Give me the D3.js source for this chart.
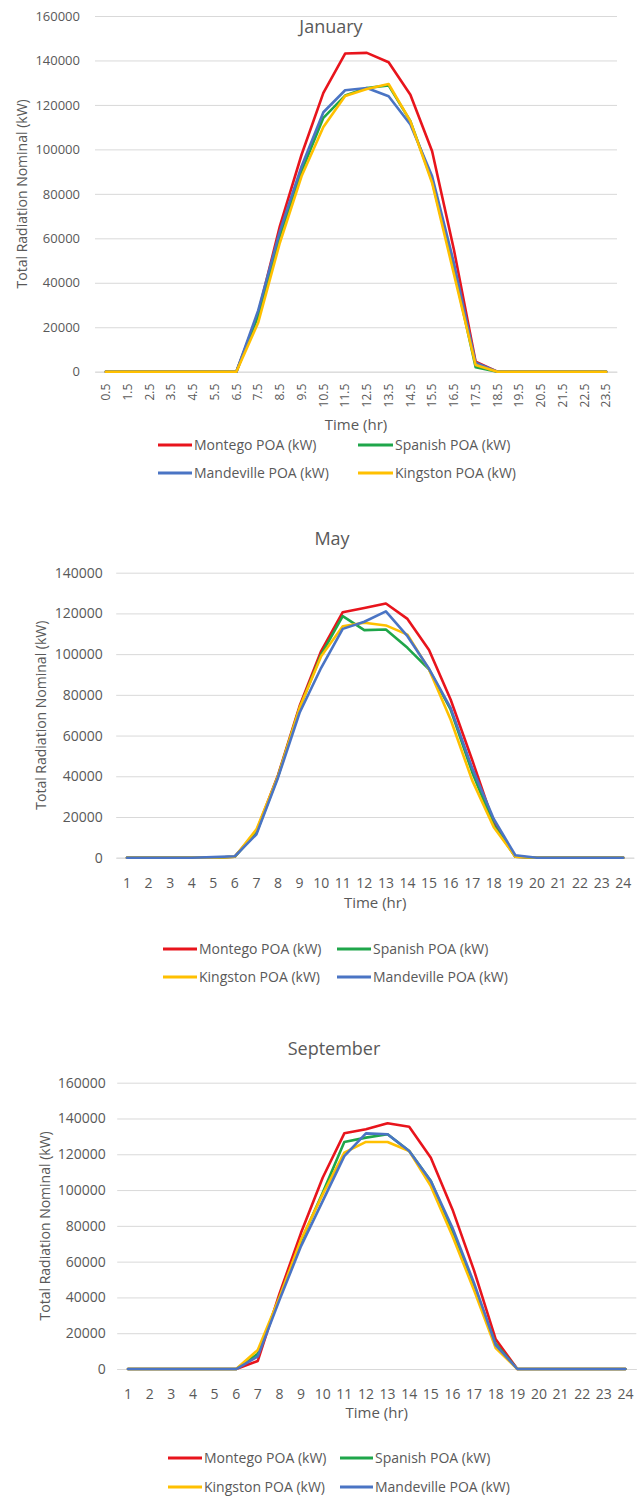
<!DOCTYPE html>
<html><head><meta charset="utf-8">
<script src="https://cdn.jsdelivr.net/npm/d3@7"></script>
<style>
html,body{margin:0;padding:0;background:#fff;}
svg text{font-family:"Open Sans","Noto Sans",sans-serif;fill:#595959;}
</style></head>
<body><svg id="c" width="643" height="1497"></svg>
<script>
// ---------- DATA ----------
const janCategories = ["0.5","1.5","2.5","3.5","4.5","5.5","6.5","7.5","8.5","9.5","10.5","11.5","12.5","13.5","14.5","15.5","16.5","17.5","18.5","19.5","20.5","21.5","22.5","23.5"];
const hourCategories = ["1","2","3","4","5","6","7","8","9","10","11","12","13","14","15","16","17","18","19","20","21","22","23","24"];

const janMontego    = [0,0,0,0,0,0,0,26000,65500,97700,125400,143100,143400,139200,124600,99200,55000,4500,0,0,0,0,0,0];
const janSpanish    = [0,0,0,0,0,0,0,25000,61000,90200,114200,124200,127600,128800,112700,85700,46000,2000,0,0,0,0,0,0];
const janMandeville = [0,0,0,0,0,0,0,27500,63200,92400,116700,126600,127600,123900,111200,87900,49000,4000,0,0,0,0,0,0];
const janKingston   = [0,0,0,0,0,0,0,22000,58000,88000,110100,124000,127200,129400,112700,84900,44000,3000,0,0,0,0,0,0];

const mayMontego    = [0,0,0,0,0,500,13000,40500,74500,101500,120600,122700,124900,117300,102000,77700,48000,17000,500,0,0,0,0,0];
const maySpanish    = [0,0,0,0,0,500,12300,40000,73600,99800,118700,111800,112100,103100,92500,72800,42000,16000,500,0,0,0,0,0];
const mayKingston   = [0,0,0,0,0,500,13900,40000,73600,99000,113700,115400,114100,109600,92500,67900,38000,15000,500,0,0,0,0,0];
const mayMandeville = [0,0,0,0,300,700,11500,39300,71200,93300,112400,115900,121000,108800,92800,73600,44000,19000,1200,0,0,0,0,0];

const sepMontego    = [0,0,0,0,0,0,4500,42000,76100,106900,131700,134000,137300,135400,118100,89200,55000,16600,0,0,0,0,0,0];
const sepSpanish    = [0,0,0,0,0,0,8500,40000,71500,98500,126900,129300,131200,121800,105000,77000,46000,14000,0,0,0,0,0,0];
const sepKingston   = [0,0,0,0,0,0,10600,40000,72400,97600,120900,126900,126900,121800,102200,74300,44000,11700,0,0,0,0,0,0];
const sepMandeville = [0,0,0,0,0,0,7000,38500,68700,93800,119000,131700,131200,121800,105000,78900,48000,13400,0,0,0,0,0,0];

const janYTicks = [0,20000,40000,60000,80000,100000,120000,140000,160000];
const mayYTicks = [0,20000,40000,60000,80000,100000,120000,140000];
const sepYTicks = [0,20000,40000,60000,80000,100000,120000,140000,160000];

const seriesNames = {
  montego: "Montego POA (kW)", montegoJan: "Montego POA  (kW)",
  spanish: "Spanish POA (kW)", kingston: "Kingston POA (kW)", mandeville: "Mandeville POA (kW)"
};
const colors = {montego:"#e8141c", spanish:"#1fa64a", kingston:"#ffc000", mandeville:"#4a74c4"};

// ---------- PANELS ----------
const panels = [
  {title:"January", cats:janCategories, ticks:janYTicks, rotate:true,
   x0:95, x1:617, yTop:16, yBot:371.7, labPad:15, tickFont:13, xFont:12,
   titleX:331, titleY:33, xTitleY:430, yTitleX:22,
   series:[["montego",janMontego],["spanish",janSpanish],["mandeville",janMandeville],["kingston",janKingston]],
   legend:{rows:[445,473], cols:[[158,192],[358,393]],
     items:[["montego",seriesNames.montegoJan],["spanish",seriesNames.spanish],["mandeville",seriesNames.mandeville],["kingston",seriesNames.kingston]]}},
  {title:"May", cats:hourCategories, ticks:mayYTicks, rotate:false,
   x0:116.2, x1:634, yTop:572.7, yBot:857.7, labPad:13.5, tickFont:14, xFont:14,
   titleX:332, titleY:545, xTitleY:908, yTitleX:41,
   series:[["montego",mayMontego],["spanish",maySpanish],["kingston",mayKingston],["mandeville",mayMandeville]],
   legend:{rows:[949,977], cols:[[163,197],[337,371]],
     items:[["montego",seriesNames.montego],["spanish",seriesNames.spanish],["kingston",seriesNames.kingston],["mandeville",seriesNames.mandeville]]}},
  {title:"September", cats:hourCategories, ticks:sepYTicks, rotate:false,
   x0:117.2, x1:636.3, yTop:1082.7, yBot:1369, labPad:11.5, tickFont:14, xFont:14,
   titleX:334, titleY:1055, xTitleY:1418, yTitleX:45,
   series:[["montego",sepMontego],["spanish",sepSpanish],["kingston",sepKingston],["mandeville",sepMandeville]],
   legend:{rows:[1458,1487], cols:[[168,202],[340,373]],
     items:[["montego",seriesNames.montego],["spanish",seriesNames.spanish],["kingston",seriesNames.kingston],["mandeville",seriesNames.mandeville]]}}
];

const svg = d3.select("#c");

panels.forEach(p => {
  const g = svg.append("g");
  const x = d3.scaleBand().domain(p.cats).range([p.x0, p.x1]).paddingInner(0).paddingOuter(0);
  const y = d3.scaleLinear().domain([0, d3.max(p.ticks)]).range([p.yBot, p.yTop]);
  const xc = c => x(c) + x.bandwidth()/2;

  // Y axis with gridlines
  const ya = g.append("g").attr("transform", `translate(${p.x0},0)`)
    .call(d3.axisLeft(y).tickValues(p.ticks).tickFormat(d3.format("d")).tickSize(-(p.x1 - p.x0)).tickPadding(p.labPad));
  ya.select(".domain").remove();
  ya.selectAll(".tick line").attr("stroke", "#d9d9d9").attr("stroke-width", 1);
  ya.selectAll(".tick text").style("font-size", p.tickFont + "px").attr("fill", "#595959");

  // X axis
  const xa = g.append("g").attr("transform", `translate(0,${p.yBot})`)
    .call(d3.axisBottom(x).tickSize(0).tickPadding(p.rotate ? 12 : 20));
  xa.select(".domain").attr("stroke", "#d9d9d9");
  xa.selectAll(".tick text").style("font-size", p.xFont + "px").attr("fill", "#595959");
  if (p.rotate) {
    xa.selectAll(".tick text")
      .attr("transform", "rotate(-90)")
      .attr("text-anchor", "end")
      .attr("x", -12).attr("y", 0).attr("dy", "0.35em");
  }

  // Titles
  g.append("text").attr("x", p.titleX).attr("y", p.titleY).attr("text-anchor", "middle")
    .style("font-size", "18px").text(p.title);
  g.append("text").attr("x", (p.x0 + p.x1)/2).attr("y", p.xTitleY).attr("text-anchor", "middle")
    .style("font-size", "15px").text("Time (hr)");
  g.append("text").attr("transform", `translate(${p.yTitleX},${(p.yTop + p.yBot)/2}) rotate(-90)`)
    .attr("text-anchor", "middle").attr("dy", "0.35em").style("font-size", "14px")
    .text("Total Radiation Nominal (kW)");

  // Lines
  const line = d3.line().x((d,i) => xc(p.cats[i])).y(d => y(d));
  p.series.forEach(([key, vals]) => {
    g.append("path").datum(vals).attr("d", line)
      .attr("fill", "none").attr("stroke", colors[key]).attr("stroke-width", 2.6)
      .attr("stroke-linejoin", "round").attr("stroke-linecap", "round");
  });

  // Legend
  p.legend.items.forEach(([key, label], i) => {
    const row = Math.floor(i / 2), col = i % 2;
    const [lx0, lx1] = p.legend.cols[col];
    const ly = p.legend.rows[row];
    g.append("line").attr("x1", lx0).attr("x2", lx1).attr("y1", ly).attr("y2", ly)
      .attr("stroke", colors[key]).attr("stroke-width", 3);
    g.append("text").attr("x", lx1 + 2).attr("y", ly).attr("dy", "0.35em")
      .style("font-size", "14px").text(label);
  });
});
</script></body></html>
